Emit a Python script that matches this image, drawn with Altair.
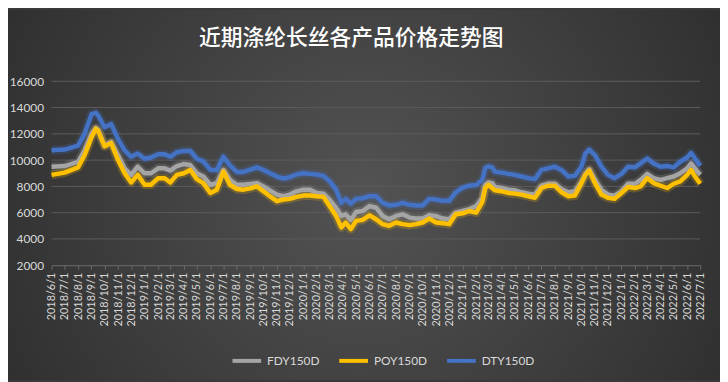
import altair as alt
import pandas as pd

# ---------------- data ----------------
dates = [
    "2018-06-01", "2018-07-01", "2018-08-01", "2018-08-16", "2018-09-01", "2018-09-11", "2018-09-16",
    "2018-10-01", "2018-10-16", "2018-11-01", "2018-11-16", "2018-12-01", "2018-12-16",
    "2019-01-01", "2019-01-16", "2019-02-01", "2019-02-16", "2019-03-01", "2019-03-16",
    "2019-04-01", "2019-04-16", "2019-05-01", "2019-05-16", "2019-06-01", "2019-06-16",
    "2019-07-01", "2019-07-16", "2019-08-01", "2019-08-16", "2019-09-01", "2019-09-16",
    "2019-10-01", "2019-10-16", "2019-11-01", "2019-11-16", "2019-12-01", "2019-12-16",
    "2020-01-01", "2020-01-16", "2020-02-01", "2020-02-16", "2020-03-01", "2020-03-16",
    "2020-03-28", "2020-04-07", "2020-04-19", "2020-05-01", "2020-05-16", "2020-06-01",
    "2020-06-16", "2020-07-01", "2020-07-16", "2020-08-01", "2020-08-16", "2020-09-01",
    "2020-09-16", "2020-10-01", "2020-10-16", "2020-11-01", "2020-11-16", "2020-12-01",
    "2020-12-16", "2021-01-01", "2021-01-16", "2021-02-01", "2021-02-15", "2021-02-22",
    "2021-03-01", "2021-03-10", "2021-03-16", "2021-04-01", "2021-04-16", "2021-05-01",
    "2021-05-16", "2021-06-01", "2021-06-16", "2021-07-01", "2021-07-16", "2021-08-01",
    "2021-08-16", "2021-09-01", "2021-09-16", "2021-10-01", "2021-10-10", "2021-10-19",
    "2021-11-01", "2021-11-16", "2021-12-01", "2021-12-16", "2022-01-01", "2022-01-16",
    "2022-02-01", "2022-02-14", "2022-03-01", "2022-03-16", "2022-04-01", "2022-04-16",
    "2022-05-01", "2022-05-16", "2022-06-01", "2022-06-10", "2022-06-19", "2022-07-01",
]

dty150d = [
    10750, 10800, 11100, 12000, 13500, 13600, 13400,
    12500, 12750, 11600, 10750, 10250, 10500,
    10100, 10200, 10450, 10450, 10250, 10600,
    10700, 10700, 10100, 9900, 9250, 9250,
    10250, 9600, 9100, 9100, 9275, 9450,
    9250, 9000, 8750, 8600, 8700, 8900,
    9000, 8950, 8900, 8800, 8400, 7750,
    6750, 7050, 6700, 7050, 7100, 7250,
    7250, 6750, 6550, 6600, 6750, 6600,
    6550, 6550, 7050, 7000, 6900, 6900,
    7550, 7900, 8050, 8100, 8500, 9400,
    9525, 9450, 9125, 9050, 8950, 8875,
    8750, 8625, 8550, 9250, 9375, 9500,
    9250, 8750, 8800, 9500, 10500, 10800,
    10375, 9500, 8875, 8625, 8950, 9500,
    9450, 9750, 10125, 9750, 9500, 9550,
    9450, 9875, 10200, 10550, 10125, 9550,
]

fdy150d = [
    9500, 9550, 9875, 10750, 12000, 12450, 12300,
    11125, 11375, 10375, 9375, 8875, 9500,
    9000, 9000, 9375, 9375, 9200, 9550,
    9700, 9625, 9000, 8750, 8125, 8250,
    9250, 8500, 8125, 8125, 8190, 8250,
    8000, 7700, 7375, 7250, 7375, 7625,
    7750, 7750, 7500, 7450, 7000, 6375,
    5750, 5875, 5450, 6050, 6125, 6500,
    6375, 5750, 5500, 5750, 5875, 5625,
    5550, 5550, 5800, 5750, 5550, 5500,
    6000, 6125, 6250, 6500, 7100, 8125,
    8300, 8250, 7950, 7875, 7750, 7700,
    7550, 7450, 7375, 8050, 8200, 8200,
    7800, 7550, 7625, 8350, 8950, 9300,
    8500, 7750, 7375, 7300, 7625, 8200,
    8200, 8500, 8950, 8625, 8500, 8625,
    8750, 9000, 9375, 9750, 9375, 8875,
]

poy150d = [
    8875, 9050, 9450, 10375, 11750, 12375, 12250,
    11050, 11300, 10000, 9000, 8300, 8875,
    8125, 8125, 8625, 8625, 8300, 8875,
    9000, 9250, 8550, 8250, 7500, 7750,
    9125, 8125, 7800, 7750, 7850, 8000,
    7625, 7250, 6875, 7000, 7050, 7200,
    7300, 7300, 7250, 7200, 6500, 5750,
    4875, 5250, 4750, 5375, 5450, 5800,
    5500, 5125, 5000, 5250, 5125, 5050,
    5125, 5250, 5550, 5250, 5200, 5125,
    5875, 5950, 6125, 6000, 6800, 7875,
    8125, 7875, 7700, 7625, 7500, 7450,
    7375, 7250, 7125, 7875, 8050, 8050,
    7550, 7250, 7300, 8250, 8875, 9200,
    8250, 7375, 7125, 7050, 7500, 7950,
    7875, 8000, 8625, 8250, 8050, 7875,
    8200, 8375, 8875, 9250, 8750, 8200,
]

series_names = ["FDY150D", "POY150D", "DTY150D"]
series_colors = ["#A5A5A5", "#FFC000", "#4472C4"]
y_ticks = [2000, 4000, 6000, 8000, 10000, 12000, 14000, 16000]
month_ticks = [(2018 + (5 + i) // 12, (5 + i) % 12 + 1) for i in range(50)]  # 2018/6 .. 2022/7

title_text = "近期涤纶长丝各产品价格走势图"

# ---------------- table built from the arrays ----------------
df = pd.DataFrame({
    "date": pd.to_datetime(dates * 3),
    "series": [series_names[0]] * len(dates) + [series_names[1]] * len(dates) + [series_names[2]] * len(dates),
    "price": fdy150d + poy150d + dty150d,
})
grid_df = pd.DataFrame({"price": y_ticks[1:]})
one_df = pd.DataFrame({"title": [title_text]})

W, H = 656, 186
LABEL_COLOR = "#d9d9d9"
NUM_FONT = "Lato"

color_scale = alt.Scale(domain=series_names, range=series_colors)
y_scale = alt.Scale(domain=[y_ticks[0], y_ticks[-1]], nice=False, zero=False)
x_scale = alt.Scale(domain=[alt.DateTime(year=2018, month=6, date=1),
                            alt.DateTime(year=2022, month=7, date=1)])

y_axis = alt.Axis(values=y_ticks, format="d", grid=False, domain=False, ticks=False,
                  labelColor=LABEL_COLOR, labelFont=NUM_FONT, labelFontSize=12,
                  labelPadding=8, zindex=1)
x_axis = alt.Axis(values=[alt.DateTime(year=y, month=m, date=1) for y, m in month_ticks],
                  format="%Y/%-m/%-d", labelAngle=270, labelOverlap=False,
                  labelColor=LABEL_COLOR, labelFont=NUM_FONT, labelFontSize=11,
                  labelPadding=3, grid=False, domainColor="#6b6b6b", tickColor="#6b6b6b",
                  tickSize=4, zindex=1)

legend_spec = alt.Legend(title=None, orient="none", legendX=181, legendY=266,
                         direction="horizontal", symbolType="stroke", symbolStrokeWidth=4,
                         symbolSize=841, symbolOpacity=1, labelColor=LABEL_COLOR,
                         labelFont=NUM_FONT, labelFontSize=12, columnPadding=12,
                         labelOffset=4, zindex=1)

bg = alt.Chart(one_df).mark_rect(
    fill={"gradient": "radial", "x1": 0.5, "y1": 0.5, "r1": 0,
          "x2": 0.5, "y2": 0.5, "r2": 0.72,
          "stops": [{"offset": 0, "color": "#535353"}, {"offset": 1, "color": "#262626"}]},
    stroke=None,
).encode(x=alt.value(-44), x2=alt.value(W + 20), y=alt.value(-72), y2=alt.value(H + 116))

title_mark = alt.Chart(one_df).mark_text(
    font="Noto Sans CJK SC", fontSize=22, fontWeight=500, color="#ffffff",
    align="center", baseline="middle",
).encode(text="title:N", x=alt.value(W / 2 - 25), y=alt.value(-44))

grid = alt.Chart(grid_df).mark_rule(color="#5c5c5c", strokeWidth=1).encode(
    y=alt.Y("price:Q", scale=y_scale, axis=y_axis, title=None),
    x=alt.value(0), x2=alt.value(W),
)

glow = alt.Chart(df).mark_line(strokeWidth=9, opacity=0.22, strokeJoin="round").encode(
    x=alt.X("date:T", scale=x_scale, axis=x_axis, title=None),
    y=alt.Y("price:Q", scale=y_scale, axis=y_axis, title=None),
    color=alt.Color("series:N", scale=color_scale, legend=legend_spec),
    detail="series:N",
)

lines = []
for name in series_names:
    lines.append(
        alt.Chart(df).transform_filter(alt.datum.series == name)
        .mark_line(strokeWidth=4.5, strokeJoin="round")
        .encode(
            x=alt.X("date:T", scale=x_scale, axis=x_axis, title=None),
            y=alt.Y("price:Q", scale=y_scale, axis=y_axis, title=None),
            color=alt.Color("series:N", scale=color_scale, legend=legend_spec),
        )
    )

chart = alt.layer(bg, title_mark, grid, glow, *lines).properties(
    width=W, height=H,
    padding={"left": 44, "top": 72, "right": 20, "bottom": 116},
    autosize=alt.AutoSizeParams(type="none"),
    background="#3a3a3a",
).configure_view(stroke=None)

chart.save("out.html", embed_options={"renderer": "svg", "actions": False})
